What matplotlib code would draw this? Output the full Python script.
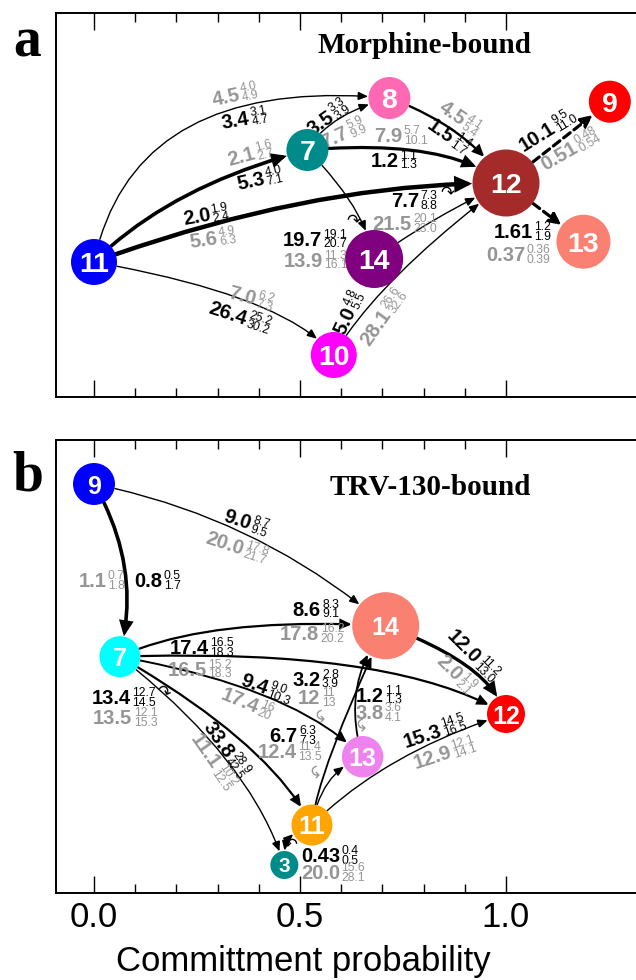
import numpy as np
import matplotlib
matplotlib.use("Agg")
import matplotlib.pyplot as plt
from matplotlib.patches import FancyArrowPatch, ArrowStyle
from matplotlib import transforms
from matplotlib.ticker import FixedLocator

# ---------------- data ----------------
# (a) morphine-bound: states and their committment probabilities
a_states = ["11", "7", "8", "9", "12", "13", "14", "10"]
a_commit = [0.0, 0.518, 0.717, 1.252, 1.0, 1.188, 0.680, 0.582]

# transitions (source -> target) with black / gray values and their ranges
a_src = ["11", "11", "11", "11", "7", "7", "7", "8", "14", "10", "12", "12"]
a_dst = ["8", "7", "12", "10", "8", "12", "14", "12", "12", "12", "9", "13"]
a_black = ["3.4", "5.3", "2.0", "26.4", "3.5", "1.2", "19.7", "1.5", "7.7", "5.0", "10.1", "1.61"]
a_black_lo = ["3.1", "4.0", "1.9", "25.2", "3.3", "1.1", "19.1", "1.4", "7.3", "4.8", "9.5", "1.2"]
a_black_hi = ["4.7", "7.1", "2.4", "30.2", "3.9", "1.3", "20.7", "1.7", "8.8", "5.5", "11.0", "1.9"]
a_gray = ["4.5", "2.1", "5.6", "7.0", "7.7", "7.9", "13.9", "4.5", "21.5", "28.1", "0.51", "0.37"]
a_gray_lo = ["4.0", "1.6", "4.9", "6.2", "5.9", "5.7", "11.3", "4.1", "20.1", "26.6", "0.48", "0.36"]
a_gray_hi = ["4.9", "2.7", "6.3", "7.3", "9.9", "10.1", "16.1", "5.4", "23.0", "32.6", "0.54", "0.39"]

# (b) TRV-130-bound
b_states = ["9", "7", "14", "12", "13", "11", "3"]
b_commit = [0.0, 0.063, 0.708, 1.0, 0.652, 0.529, 0.462]

b_src = ["9", "9", "7", "7", "7", "7", "7", "11", "11", "13", "11", "11", "14"]
b_dst = ["7", "14", "14", "12", "13", "11", "3", "3", "14", "14", "13", "12", "12"]
b_black = ["0.8", "9.0", "8.6", "17.4", "9.4", "33.8", "13.4", "0.43", "3.2", "1.2", "6.7", "15.3", "12.0"]
b_black_lo = ["0.5", "8.7", "8.3", "16.5", "9.0", "28.9", "12.7", "0.4", "2.8", "1.1", "6.3", "14.5", "11.2"]
b_black_hi = ["1.7", "9.5", "9.1", "18.3", "10.3", "42.5", "14.5", "0.5", "3.9", "1.3", "7.3", "16.5", "13.0"]
b_gray = ["1.1", "20.0", "17.8", "16.5", "17.4", "11.1", "13.5", "20.0", "12", "3.8", "12.4", "12.9", "2.0"]
b_gray_lo = ["0.7", "17.8", "16.2", "15.2", "16", "10.2", "12.1", "15.6", "11", "3.6", "11.4", "12.1", "1.9"]
b_gray_hi = ["1.8", "21.7", "20.2", "18.3", "20", "12.5", "15.3", "28.1", "13", "4.1", "13.5", "14.1", "2.1"]

xticks_major = [0.0, 0.5, 1.0]
xticks_minor = [0.1, 0.2, 0.3, 0.4, 0.6, 0.7, 0.8, 0.9]
xlabel = "Committment probability"

# ---------------- layout & style ----------------
W, H = 636, 980
GRAY = "#959595"
SANS = "Liberation Sans"
SERIF = "Liberation Serif"

# vertical placement of each state (pixel rows) and node radii (pixels)
a_row = [262, 150, 98, 101.7, 183, 241.7, 259, 355]
a_rad = [23, 21, 21, 21, 33.5, 27, 29, 23]
a_col = ["#0000ff", "#008b8b", "#ff69b4", "#ff0000", "#a52a2a", "#fa8072", "#800080", "#ff00ff"]
a_fs = [20.5] * 8

b_row = [484, 656.7, 625.7, 714, 756.7, 825, 865]
b_rad = [21, 20.5, 33.5, 19, 20.7, 20.5, 14]
b_col = ["#0000ff", "#00ffff", "#fa8072", "#ff0000", "#ee82ee", "#ffa500", "#008b8b"]
b_fs = [18, 18, 18, 18, 18, 18, 15]

# edge styles: line width, connection, dashed, double-headed
a_lw = [1.0, 2.6, 3.2, 1.0, 1.0, 2.3, 1.0, 1.7, 1.0, 1.0, 2.3, 2.3]
a_conn = ["angle3,angleA=78,angleB=-5", "angle3,angleA=45,angleB=15",
          "angle3,angleA=20,angleB=0", "angle3,angleA=-10,angleB=-50",
          "angle3,angleA=60,angleB=15", "angle3,angleA=5,angleB=-35",
          "angle3,angleA=-45,angleB=-80", "angle3,angleA=-20,angleB=-55",
          "arc3,rad=-0.05", "angle3,angleA=60,angleB=37",
          "arc3,rad=0", "arc3,rad=0"]
a_dash = [False] * 10 + [True, True]
a_both = [False] * 12

b_lw = [2.6, 1.0, 1.6, 1.6, 1.4, 1.6, 1.0, 1.0, 1.3, 1.3, 1.0, 1.0, 2.4]
b_conn = ["arc3,rad=-0.2", "arc3,rad=-0.13",
          "angle3,angleA=25,angleB=-3", "angle3,angleA=2,angleB=-30",
          "angle3,angleA=-10,angleB=-45", "angle3,angleA=-30,angleB=-62",
          "angle3,angleA=-38,angleB=-72", "arc3,rad=0.45",
          "angle3,angleA=85,angleB=65", "arc3,rad=-0.26",
          "angle3,angleA=80,angleB=20", "angle3,angleA=45,angleB=18",
          "angle3,angleA=-20,angleB=-70"]
b_dash = [False] * 13
b_both = [False] * 7 + [True] + [False] * 5

# label anchors (x, row, rotation) for the black and gray value labels
a_black_pos = [(0.378, 116.7, 10), (0.414, 176.7, 12), (0.283, 213.3, 10), (0.373, 318.3, -18),
               (0.576, 113.3, 35), (0.740, 159.3, 0), (0.554, 238.3, 0), (0.873, 138.3, -35),
               (0.791, 200.0, 0), (0.622, 306.7, 65), (1.115, 125.0, 32), (1.067, 231.0, 0)]
a_gray_pos = [(0.355, 92.7, 12), (0.391, 151.7, 15), (0.301, 236.7, 8), (0.395, 298.3, -15),
              (0.615, 130.0, 25), (0.750, 135.0, 0), (0.557, 259.3, 0), (0.900, 120.0, -35),
              (0.772, 222.7, 0), (0.710, 310.0, 55), (1.170, 145.0, 30), (1.048, 254.0, 0)]
b_black_pos = [(0.167, 580.0, 0), (0.382, 523.3, -18), (0.552, 608.3, 0), (0.280, 646.7, 0),
               (0.423, 688.3, -20), (0.333, 755.0, -55), (0.091, 696.7, 0), (0.598, 855.0, 0),
               (0.551, 678.3, 0), (0.704, 694.3, 0), (0.495, 735.0, 0), (0.844, 728.3, 18),
               (0.934, 660.0, -45)]
b_gray_pos = [(0.031, 580.0, 0), (0.364, 548.3, -18), (0.548, 632.7, 0), (0.275, 668.3, 0),
              (0.400, 706.7, -22), (0.301, 766.7, -55), (0.094, 716.7, 0), (0.598, 871.7, 0),
              (0.551, 696.7, 0), (0.704, 711.7, 0), (0.493, 750.7, 0), (0.867, 750.0, 18),
              (0.889, 676.7, -45)]

# small curled pointers next to some labels: (glyph, x, row, color, rotation)
a_curls = [("\u21b7", 0.630, 220.0, "k", 0), ("\u21b7", 0.857, 192.5, "k", 0)]
b_curls = [("\u21b7", 0.169, 691.7, "k", -20), ("\u21b6", 0.476, 844.0, "k", 0),
           ("\u21b6", 0.556, 715.0, GRAY, 90), ("\u21b6", 0.655, 724.0, GRAY, 90),
           ("\u21b6", 0.544, 771.0, GRAY, 90)]

PX0, PX_PER_UNIT = 94.0, 412.0   # pixel column of x=0 and pixels per unit
X_LEFT_PX = 55.6


def make_axes(fig, top, bottom):
    ax = fig.add_axes([X_LEFT_PX / W, 1 - bottom / H, 1 - X_LEFT_PX / W, (bottom - top) / H])
    x0 = (X_LEFT_PX - PX0) / PX_PER_UNIT
    ax.set_xlim(x0, x0 + (W - X_LEFT_PX) / PX_PER_UNIT)
    ax.set_ylim(bottom, top)
    ax.spines["right"].set_visible(False)
    for sp in ("left", "top", "bottom"):
        ax.spines[sp].set_linewidth(1.4)
    ax.set_yticks([])
    ax.xaxis.set_major_locator(FixedLocator(xticks_major))
    ax.xaxis.set_minor_locator(FixedLocator(xticks_minor))
    ax.tick_params(axis="x", which="both", direction="in", top=True, bottom=True,
                   width=1.0, pad=6, labelsize=25)
    ax.tick_params(axis="x", which="major", length=12)
    ax.tick_params(axis="x", which="minor", length=6.5)
    for lab in ax.get_xticklabels():
        lab.set_family(SANS)
    return ax


def value_label(ax, x, y, main, lo, hi, color, rot):
    th = np.deg2rad(rot)
    c, s = np.cos(th), np.sin(th)

    def at(dx, dy):
        return transforms.offset_copy(ax.transData, fig=ax.figure,
                                      x=dx * c - dy * s, y=dx * s + dy * c, units="dots")

    kw = dict(rotation=rot, rotation_mode="anchor", va="baseline", color=color,
              family=SANS, zorder=2.5)
    ax.text(x, y, main, transform=at(-0.5, -7.3), ha="right", fontsize=14.5,
            fontweight="bold", **kw)
    ax.text(x, y, lo, transform=at(1.0, 0.6), ha="left", fontsize=8.8, **kw)
    ax.text(x, y, hi, transform=at(1.0, -8.9), ha="left", fontsize=8.8, **kw)


def draw_network(ax, states, commit, rows, rads, cols, fss, src, dst, lws, conns, dashes,
                 boths, blk, blk_lo, blk_hi, gry, gry_lo, gry_hi, bpos, gpos, curls):
    idx = {s: i for i, s in enumerate(states)}
    for k in range(len(src)):
        i, j = idx[src[k]], idx[dst[k]]
        lw = lws[k]
        style = ArrowStyle("<|-|>" if boths[k] else "-|>",
                           head_length=5.0 + 0.8 * lw, head_width=2.0 + 0.5 * lw)
        ls = (0, (2.6, 1.5)) if dashes[k] else "-"
        ax.add_patch(FancyArrowPatch((commit[i], rows[i]), (commit[j], rows[j]),
                                     arrowstyle=style, connectionstyle=conns[k],
                                     shrinkA=rads[i] * 0.72 + 0.3, shrinkB=rads[j] * 0.72 + 0.3,
                                     lw=lw, color="k", linestyle=ls, zorder=2,
                                     mutation_scale=1, joinstyle="miter"))
        x, y, r = bpos[k]
        value_label(ax, x, y, blk[k], blk_lo[k], blk_hi[k], "k", r)
        x, y, r = gpos[k]
        value_label(ax, x, y, gry[k], gry_lo[k], gry_hi[k], GRAY, r)

    sizes = [(2 * r * 0.72) ** 2 for r in rads]
    ax.scatter(commit, rows, s=sizes, c=cols, linewidths=0, zorder=3)
    for name, x, y, fs in zip(states, commit, rows, fss):
        ax.text(x, y, name, ha="center", va="center_baseline", color="white",
                fontsize=fs, fontweight="bold", family=SANS, zorder=4)
    for g, x, y, c, rot in curls:
        ax.text(x, y, g, ha="center", va="center", color=c, fontsize=12,
                rotation=rot, family="DejaVu Sans", zorder=2.5)


fig = plt.figure(figsize=(W / 100, H / 100), dpi=100)

ax_a = make_axes(fig, 13, 397)
ax_a.tick_params(axis="x", labelbottom=False)
draw_network(ax_a, a_states, a_commit, a_row, a_rad, a_col, a_fs, a_src, a_dst, a_lw, a_conn,
             a_dash, a_both, a_black, a_black_lo, a_black_hi, a_gray, a_gray_lo, a_gray_hi,
             a_black_pos, a_gray_pos, a_curls)
ax_a.text(1.061, 53.3, "Morphine-bound", ha="right", va="baseline", fontsize=21,
          fontweight="bold", family=SERIF)

ax_b = make_axes(fig, 440, 892.7)
draw_network(ax_b, b_states, b_commit, b_row, b_rad, b_col, b_fs, b_src, b_dst, b_lw, b_conn,
             b_dash, b_both, b_black, b_black_lo, b_black_hi, b_gray, b_gray_lo, b_gray_hi,
             b_black_pos, b_gray_pos, b_curls)
ax_b.text(1.061, 495, "TRV-130-bound", ha="right", va="baseline", fontsize=21,
          fontweight="bold", family=SERIF)
ax_b.set_xlabel(xlabel, fontsize=25, family=SANS, labelpad=8,
                x=(303 - X_LEFT_PX) / (W - X_LEFT_PX))

fig.text(27.4 / W, 1 - 56.7 / H, "a", ha="center", va="baseline", fontsize=40,
         fontweight="bold", family=SERIF)
fig.text(27.4 / W, 1 - 490 / H, "b", ha="center", va="baseline", fontsize=40,
         fontweight="bold", family=SERIF)

fig.savefig("out.png", dpi=100)
